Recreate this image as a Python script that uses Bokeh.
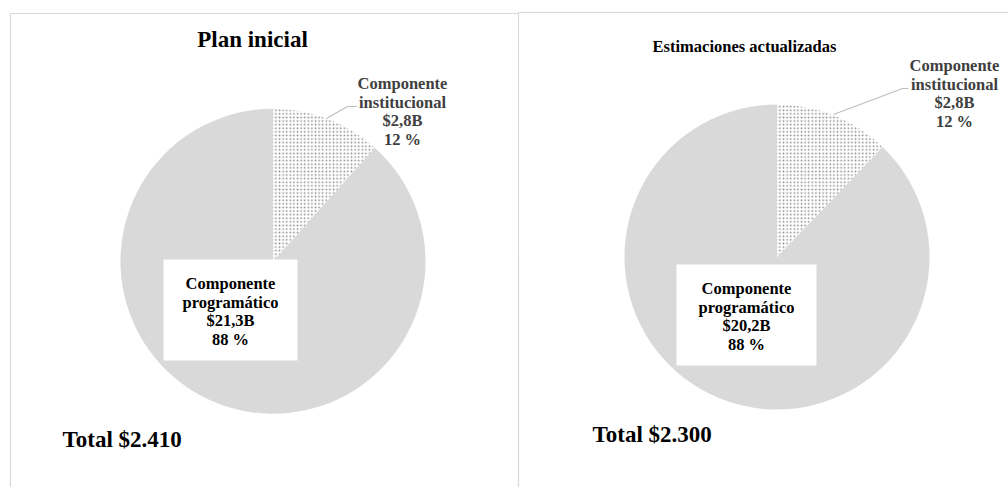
import math
from bokeh.plotting import figure
from bokeh.models import Range1d
from bokeh.core.properties import value
from bokeh.embed import file_html
from bokeh.resources import INLINE

# ---- data ----
chart_titles = ["Plan inicial", "Estimaciones actualizadas"]
components = ["Componente institucional", "Componente programático"]
plan_amounts = [2.8, 21.3]        # $B
estimate_amounts = [2.8, 20.2]    # $B
totals = ["$2.410", "$2.300"]

slice_colors = ["white", "#d9d9d9"]

# ---- canvas (1 data unit = 1 px, y measured upward) ----
W, H = 1008, 487
PH = 487
def Y(py):
    return PH - py

p = figure(width=W, height=H, x_range=Range1d(0, W), y_range=Range1d(0, H),
           output_backend="svg", toolbar_location=None, min_border=0,
           outline_line_color=None, background_fill_color="white", border_fill_color="white")
p.xaxis.visible = False
p.yaxis.visible = False
p.grid.visible = False

FONT = value('"Liberation Serif", "Times New Roman", serif')

def fmt_amount(v):
    return "$" + f"{v:.1f}".replace(".", ",") + "B"

# panel borders
p.line(x=[10, 10, 518], y=[Y(490), Y(13), Y(13)], line_color="#d9d9d9", line_width=1.2)
p.line(x=[518, 518, 1010], y=[Y(490), Y(12), Y(12)], line_color="#d9d9d9", line_width=1.2)

panels = [
    dict(amounts=plan_amounts, cx=272.5, cy=260.8, r=152.5,
         title_xy=(252, 39), title_size="23px",
         inst_xy=(402, 83), inst_line=[(326, 118), (347, 106), (357, 106)],
         box=(163, 297, 259, 360), prog_xy=(230, 283),
         total_xy=(62, 439)),
    dict(amounts=estimate_amounts, cx=776.5, cy=256.5, r=152.5,
         title_xy=(744, 46), title_size="16.5px",
         inst_xy=(954, 65), inst_line=[(833, 114), (902, 88), (908, 88)],
         box=(676, 816, 264, 365), prog_xy=(746, 288),
         total_xy=(592, 434)),
]

LS = 18.5  # label line spacing
LABEL_SIZE = "16.5px"

for title, panel, total in zip(chart_titles, panels, totals):
    vals = panel["amounts"]
    s = sum(vals)
    fracs = [v / s for v in vals]
    cx, cy, r = panel["cx"], Y(panel["cy"]), panel["r"]
    # slices start at 12 o'clock and go clockwise
    start = math.pi / 2
    angles = []
    for f in fracs:
        end = start - f * 2 * math.pi
        angles.append((end, start))
        start = end
    # programmatic slice (grey)
    a0, a1 = angles[1]
    p.wedge(x=[cx], y=[cy], radius=r, start_angle=a0, end_angle=a1,
            fill_color=slice_colors[1], line_color=None)
    # institutional slice (dotted)
    a0, a1 = angles[0]
    p.wedge(x=[cx], y=[cy], radius=r, start_angle=a0, end_angle=a1,
            fill_color="white", line_color=None,
            hatch_pattern=".", hatch_color="#8a8a8a", hatch_scale=3.6, hatch_weight=1.1)

    # title
    tx, ty = panel["title_xy"]
    p.text(x=[tx], y=[Y(ty)], text=[title], text_font=FONT, text_font_style="bold",
           text_font_size=panel["title_size"], text_align="center", text_baseline="middle",
           text_color="black")

    pcts = [round(100 * f) for f in fracs]

    # institutional label + leader line
    lx, ly = panel["inst_xy"]
    name = components[0].split(" ")
    lines = [name[0], name[1], fmt_amount(vals[0]), f"{pcts[0]} %"]
    p.text(x=[lx] * 4, y=[Y(ly + i * LS) for i in range(4)], text=lines,
           text_font=FONT, text_font_style="bold", text_font_size=LABEL_SIZE,
           text_align="center", text_baseline="middle", text_color="#404040")
    xs = [pt[0] for pt in panel["inst_line"]]
    ys = [Y(pt[1]) for pt in panel["inst_line"]]
    p.line(x=xs, y=ys, line_color="#bfbfbf", line_width=1.2)

    # programmatic label in white box
    bx0, bx1, by0, by1 = panel["box"]
    p.quad(left=[bx0], right=[bx1], top=[Y(by0)], bottom=[Y(by1)],
           fill_color="white", line_color=None)
    px_, py_ = panel["prog_xy"]
    name = components[1].split(" ")
    lines = [name[0], name[1], fmt_amount(vals[1]), f"{pcts[1]} %"]
    p.text(x=[px_] * 4, y=[Y(py_ + i * LS) for i in range(4)], text=lines,
           text_font=FONT, text_font_style="bold", text_font_size=LABEL_SIZE,
           text_align="center", text_baseline="middle", text_color="black")

    # total
    ox, oy = panel["total_xy"]
    p.text(x=[ox], y=[Y(oy)], text=["Total " + total], text_font=FONT,
           text_font_style="bold", text_font_size="23px", text_align="left",
           text_baseline="middle", text_color="black")

open("out.html", "w").write(file_html(p, INLINE))
